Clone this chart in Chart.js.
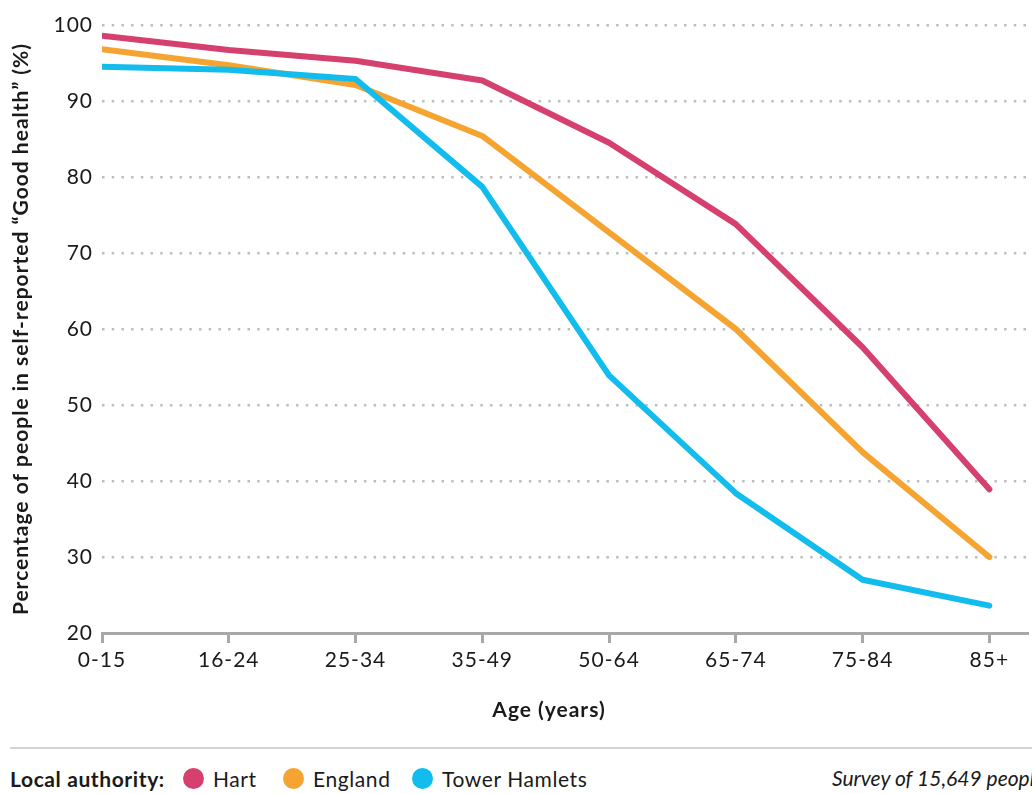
<!DOCTYPE html>
<html>
<head>
<meta charset="utf-8">
<script src="https://cdn.jsdelivr.net/npm/chart.js@4/dist/chart.umd.min.js"></script>
<style>
  html, body { margin: 0; padding: 0; background: #fff; width: 1032px; height: 794px; overflow: hidden; font-family: Lato, "Noto Sans", sans-serif; color: #1a1a1a; }
  #wrap { position: absolute; left: 0; top: 0; width: 1032px; height: 730px; }
  #xtitle { position: absolute; left: 449px; top: 695px; width: 200px; text-align: center; font-size: 21px; font-weight: 700; letter-spacing: 1px; line-height: 28px; white-space: nowrap; }
  #sep { position: absolute; left: 10px; top: 747px; width: 1022px; height: 0; border-top: 2px solid #d4d4d4; }
  .leg { position: absolute; top: 765px; font-size: 21px; line-height: 28px; white-space: nowrap; letter-spacing: 0.6px; }
  .dot { position: absolute; top: 768px; width: 21px; height: 21px; border-radius: 50%; }
  #survey { position: absolute; left: 832px; top: 764px; font-size: 21px; font-style: italic; white-space: nowrap; line-height: 28px; }
</style>
</head>
<body>
<div id="wrap"><canvas id="c" width="1032" height="730"></canvas></div>
<div id="xtitle">Age (years)</div>
<div id="sep"></div>
<div class="leg" style="left:10px;font-weight:700;">Local authority:</div>
<div class="dot" style="left:183px;background:#d6406e;"></div>
<div class="leg" style="left:213px;">Hart</div>
<div class="dot" style="left:283px;background:#f6a431;"></div>
<div class="leg" style="left:313px;">England</div>
<div class="dot" style="left:412px;background:#12bcec;"></div>
<div class="leg" style="left:442px;">Tower Hamlets</div>
<div id="survey">Survey of 15,649 people</div>
<script>
const ageGroups = ["0-15", "16-24", "25-34", "35-49", "50-64", "65-74", "75-84", "85+"];
const hart = [98.6, 96.7, 95.3, 92.7, 84.5, 73.8, 57.6, 38.9];
const england = [96.8, 94.7, 92.1, 85.4, 72.7, 60.0, 43.8, 30.0];
const towerHamlets = [94.5, 94.1, 92.9, 78.7, 53.9, 38.4, 27.0, 23.6];
const yTicks = [20, 30, 40, 50, 60, 70, 80, 90, 100];

const toPts = arr => arr.map((v, i) => ({ x: i, y: v }));
const lineStyle = c => ({ borderColor: c, backgroundColor: c, borderWidth: 6, pointRadius: 0, pointHoverRadius: 0, tension: 0, borderJoinStyle: 'round', borderCapStyle: 'round', fill: false });

const spacingPlugin = {
  id: 'spacing',
  beforeUpdate(chart) { chart.ctx.letterSpacing = '1px'; },
  beforeDraw(chart) { chart.ctx.letterSpacing = '1px'; }
};

new Chart(document.getElementById('c'), {
  type: 'line',
  plugins: [spacingPlugin],
  data: {
    datasets: [
      Object.assign({ label: 'Hart', data: toPts(hart), order: 1 }, lineStyle('#d6406e')),
      Object.assign({ label: 'England', data: toPts(england), order: 2 }, lineStyle('#f6a431')),
      Object.assign({ label: 'Tower Hamlets', data: toPts(towerHamlets), order: 0 }, lineStyle('#12bcec'))
    ]
  },
  options: {
    responsive: false,
    animation: false,
    layout: { padding: { left: 0, right: 4, top: 25, bottom: 0 } },
    plugins: { legend: { display: false }, tooltip: { enabled: false } },
    scales: {
      x: {
        type: 'linear',
        min: 0,
        max: 7.305,
        afterFit: s => { s.height = 97; },
        ticks: {
          stepSize: 1,
          includeBounds: false,
          autoSkip: false,
          maxRotation: 0,
          padding: 5,
          color: '#1a1a1a',
          font: { family: 'Lato', size: 21 },
          callback: v => ageGroups[v] !== undefined ? ageGroups[v] : ''
        },
        grid: { drawOnChartArea: false, drawTicks: true, tickLength: 10, tickWidth: 3, tickColor: '#a8a8a8' },
        border: { display: true, color: '#a8a8a8', width: 3 },
        title: { display: false }
      },
      y: {
        min: 20,
        max: 100,
        afterFit: s => { s.width = 102; },
        afterBuildTicks: s => { s.ticks = yTicks.map(v => ({ value: v })); },
        ticks: { padding: 9, color: '#1a1a1a', font: { family: 'Lato', size: 21 } },
        grid: { color: ctx => ctx.tick && ctx.tick.value === 20 ? 'rgba(0,0,0,0)' : '#bdbdbd', lineWidth: 2.5, drawTicks: false },
        border: { display: false, dash: [2.5, 7.2] },
        title: { display: true, text: 'Percentage of people in self-reported \u201CGood health\u201D (%)', color: '#1a1a1a', font: { family: 'Lato', size: 21, weight: '700' }, padding: { top: 9, bottom: 0 } }
      }
    }
  }
});
</script>
</body>
</html>
